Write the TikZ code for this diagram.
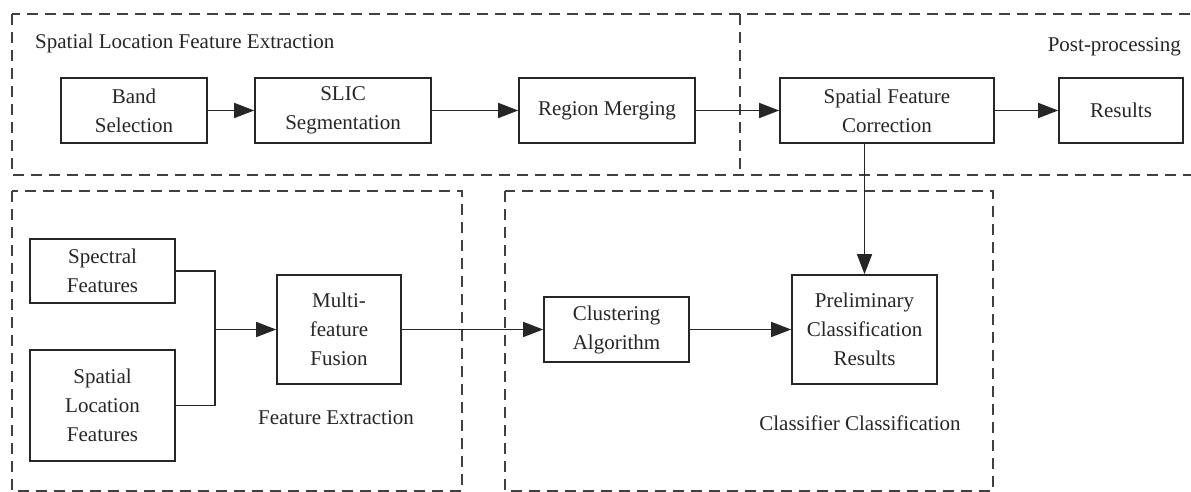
\documentclass[tikz,border=0pt]{standalone}
\usepackage{fontspec}
\setmainfont{Liberation Serif}
\usetikzlibrary{arrows.meta}
\begin{document}
\begin{tikzpicture}[x=1pt,y=-1pt,
  blk/.style={draw=black!85, line width=1.6pt, inner sep=0pt, align=center, text=black!85, font=\fontsize{21}{29}\selectfont},
  grp/.style={draw=black!75, line width=1.4pt, dash pattern=on 11pt off 7pt},
  lbl/.style={inner sep=0pt, text=black!85, font=\fontsize{21}{29}\selectfont},
  conn/.style={draw=black!85, line width=1.5pt, -{Triangle[length=20pt,width=15pt]}},
  plainline/.style={draw=black!85, line width=1.5pt}]
\clip (0,0) rectangle (1191,492);
% group frames
\draw[grp] (12,14) rectangle (1205,175);
\draw[grp] (740,14) -- (740,175);
\draw[grp] (12,191) rectangle (462,491);
\draw[grp] (505,191) rectangle (993,491);
% labels
\node[lbl, anchor=west] (t1) at (35,43) {Spatial Location Feature Extraction};
\node[lbl, anchor=east] (t2) at (1181,47) {Post-processing};
\node[lbl] (t3) at (336,418) {Feature Extraction};
\node[lbl] (t4) at (860,423) {Classifier Classification};
% top row
\node[blk, minimum width=146pt, minimum height=65pt] (band) at (134,110.5) {Band\\Selection};
\node[blk, minimum width=176pt, minimum height=65pt] (slic) at (343,110.5) {SLIC\\Segmentation};
\node[blk, minimum width=176pt, minimum height=65pt] (merge) at (607,110.5) {Region Merging};
\node[blk, minimum width=214pt, minimum height=65pt] (sfc) at (887,110.5) {Spatial Feature\\Correction};
\node[blk, minimum width=124pt, minimum height=65pt] (res) at (1121,110.5) {Results};
% lower
\node[blk, minimum width=145pt, minimum height=64pt] (spec) at (102.5,271) {Spectral\\Features};
\node[blk, minimum width=145pt, minimum height=111pt] (sloc) at (102.5,405.5) {Spatial\\Location\\Features};
\node[blk, minimum width=124pt, minimum height=109pt] (fus) at (339,329.5) {Multi-\\feature\\Fusion};
\node[blk, minimum width=145pt, minimum height=65pt] (clu) at (616.5,329.5) {Clustering\\Algorithm};
\node[blk, minimum width=145pt, minimum height=109pt] (pre) at (864.5,329.5) {Preliminary\\Classification\\Results};
\coordinate (j) at (215,329.5);
% connectors
\draw[conn] (band) -- (slic);
\draw[conn] (slic) -- (merge);
\draw[conn] (merge) -- (sfc);
\draw[conn] (sfc) -- (res);
\draw[conn] (sfc.south -| pre.north) -- (pre.north);
\draw[plainline] (spec.east) -| (j) |- (sloc.east);
\draw[conn] (j) -- (fus.west);
\draw[conn] (fus) -- (clu);
\draw[conn] (clu) -- (pre);
\end{tikzpicture}
\end{document}
